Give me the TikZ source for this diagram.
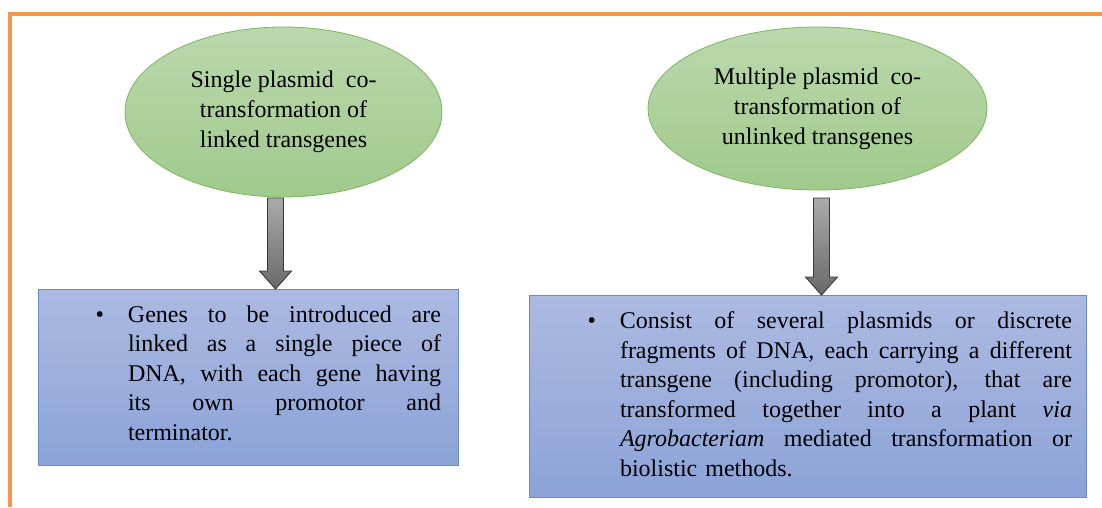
\documentclass[tikz,border=0pt]{standalone}
\usepackage{fontspec}
\setmainfont{Liberation Serif}
\usetikzlibrary{shapes.geometric,calc}
\definecolor{frameorange}{RGB}{247,150,70}
\definecolor{elltop}{RGB}{186,216,172}
\definecolor{ellbot}{RGB}{160,202,140}
\definecolor{elldraw}{RGB}{125,182,95}
\definecolor{boxtop}{RGB}{172,186,226}
\definecolor{boxbot}{RGB}{140,163,216}
\definecolor{boxdraw}{RGB}{100,138,210}
\definecolor{arrtop}{RGB}{170,170,170}
\definecolor{arrbot}{RGB}{105,105,105}
\definecolor{arrdraw}{RGB}{55,55,55}
\tikzset{
  bubble/.style={ellipse, draw=elldraw, line width=0.8pt, top color=elltop, bottom color=ellbot,
    inner sep=0pt, outer sep=0pt, align=center, font=\fontsize{24}{30}\selectfont},
  infobox/.style={rectangle, draw=boxdraw, line width=1pt, top color=boxtop, bottom color=boxbot,
    inner sep=0pt, outer sep=0pt, anchor=north west},
  infotext/.style={inner sep=0pt, outer sep=0pt, anchor=north west,
    font=\fontsize{24}{29.5}\selectfont, execute at begin node={\setlength\parindent{0pt}}},
  blockarr/.style={draw=arrdraw, line width=0.9pt, top color=arrtop, bottom color=arrbot, line join=miter},
  frameline/.style={draw=frameorange, line width=4pt}
}
\newcommand\jline[2]{\leavevmode\hbox to #1{\spaceskip=0.25em plus 1fil\relax #2}}
\newcommand\blockarrow[2]{%
  \path[blockarr] let \p1=(#1), \p2=(#2) in
  (\x1-8pt,\y1) -- (\x1+8pt,\y1) -- (\x1+8pt,\y2+18pt) -- (\x1+16pt,\y2+18pt)
  -- (\x1,\y2) -- (\x1-16pt,\y2+18pt) -- (\x1-8pt,\y2+18pt) -- cycle;}
\begin{document}
\begin{tikzpicture}[x=1pt,y=-1pt]
\useasboundingbox (0,0) rectangle (1102,507);
\fill[white] (0,0) rectangle (1102,507);
\draw[frameline] (9.5,507) -- (9.5,14) -- (1102,14);

\node[bubble, minimum width=317pt, minimum height=170pt] (e1) at (283.5,112)
  {Single plasmid\ \ co-\\transformation of\\linked transgenes};
\node[bubble, minimum width=339pt, minimum height=163pt] (e2) at (817.5,108.5)
  {Multiple plasmid\ \ co-\\transformation of\\unlinked transgenes};

\node[infobox, minimum width=420pt, minimum height=176pt] (b1) at (38,289) {};
\node[infobox, minimum width=557pt, minimum height=202pt] (b2) at (529,295) {};

\node[infotext, text width=313pt] (t1) at ($(b1.north west)+(90,16.5)$) {%
\llap{\textbullet\hspace{24pt}}\jline{313pt}{Genes to be introduced are}\\
\jline{313pt}{linked as a single piece of}\\
\jline{313pt}{DNA, with each gene having}\\
\jline{313pt}{its own promotor and}\\
terminator.};

\node[infotext, text width=452pt] (t2) at ($(b2.north west)+(91,17)$) {%
\llap{\textbullet\hspace{24pt}}\jline{452pt}{Consist of several plasmids or discrete}\\
\jline{452pt}{fragments of DNA, each carrying a different}\\
\jline{452pt}{transgene (including promotor), that are}\\
\jline{452pt}{transformed together into a plant \textit{via}}\\
\jline{452pt}{\textit{Agrobacteriam} mediated transformation or}\\
biolistic methods.};

\blockarrow{$(e1.south)+(-8,1)$}{b1.north}
\blockarrow{$(e2.south)+(4,8)$}{b2.north}
\end{tikzpicture}
\end{document}
